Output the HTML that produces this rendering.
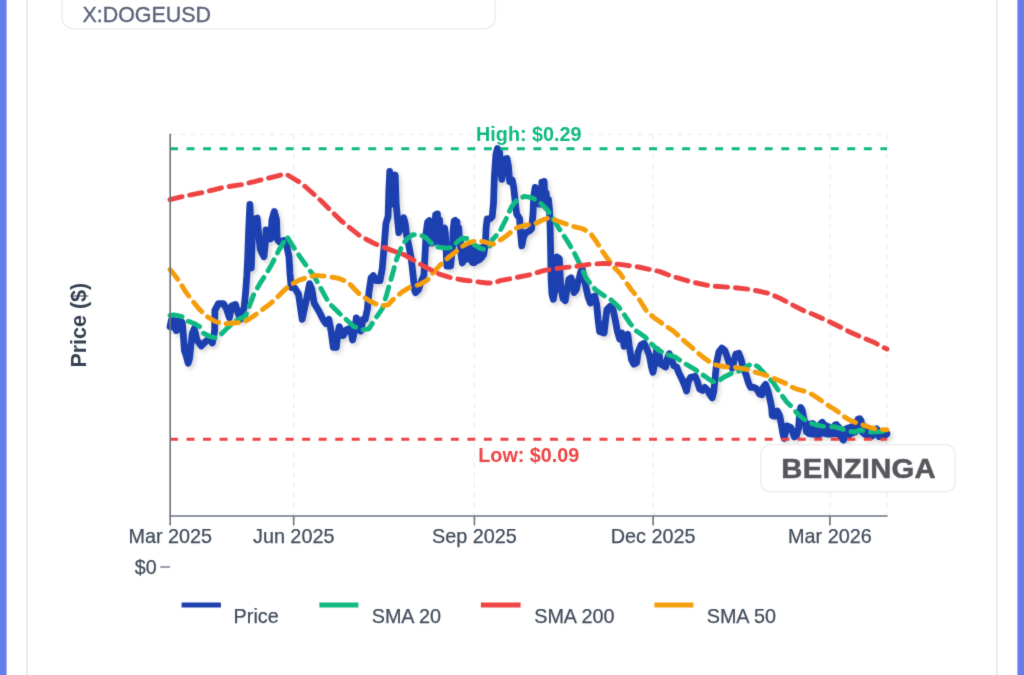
<!DOCTYPE html>
<html lang="en">
<head>
<meta charset="utf-8">
<title>X:DOGEUSD</title>
<style>
html,body{margin:0;padding:0;}
body{width:1024px;height:675px;overflow:hidden;background:#667eea;font-family:"Liberation Sans",Arial,sans-serif;position:relative;}
svg{position:absolute;left:0;top:0;will-change:transform;}
</style>
</head>
<body>
<svg width="1024" height="675" viewBox="0 0 1024 675" font-family="'Liberation Sans', Arial, sans-serif">
  <defs>
    <filter id="soft" filterUnits="userSpaceOnUse" x="-20" y="-20" width="1064" height="715" color-interpolation-filters="sRGB">
      <feConvolveMatrix order="3" kernelMatrix="0.01134 0.08382 0.01134 0.08382 0.61935 0.08382 0.01134 0.08382 0.01134" divisor="1" edgeMode="duplicate" preserveAlpha="false"/>
    </filter>
    <filter id="sh" x="-5%" y="-5%" width="110%" height="115%">
      <feDropShadow dx="2.2" dy="2.6" stdDeviation="2.2" flood-color="#000" flood-opacity="0.17"/>
    </filter>
  </defs>
  <g filter="url(#soft)">
  <!-- card + panel -->
  <rect x="6.6" y="-10" width="1010.82" height="700" fill="#ffffff"/>
  <g stroke="#e4e6ea" stroke-width="1.6">
    <line x1="27.15" y1="-5" x2="27.15" y2="680"/>
    <line x1="996.75" y1="-5" x2="996.75" y2="680"/>
  </g>
  <!-- ticker box -->
  <rect x="62.1" y="-30" width="433.3" height="58.7" rx="10.8" ry="10.8" fill="#ffffff" stroke="#eeeef1" stroke-width="1.5"/>
  <text transform="translate(82.4,21.6) scale(0.958,1)" font-size="22.4" fill="#5a6478" stroke="#5a6478" stroke-width="0.35">X:DOGEUSD</text>
  <!-- grid -->
  <g stroke="#eceef1" stroke-width="1.3" stroke-dasharray="5 4.95" fill="none">
    <line x1="170" y1="134.3" x2="887" y2="134.3"/>
    <line x1="293.7" y1="134.3" x2="293.7" y2="516"/>
    <line x1="474.4" y1="134.3" x2="474.4" y2="516"/>
    <line x1="653.1" y1="134.3" x2="653.1" y2="516"/>
    <line x1="829.9" y1="134.3" x2="829.9" y2="516"/>
    <line x1="887" y1="134.3" x2="887" y2="516"/>
  </g>
  <!-- price -->
  <polyline filter="url(#sh)" fill="none" stroke="#1e40af" stroke-width="6.8" stroke-linejoin="round" stroke-linecap="round" points="170,326.7 171.5,319.6 173.2,327.2 174.8,320.5 176.3,330.6 177.8,321.5 179.3,329.2 180.6,320.6 182.3,322.6 183.4,336 184.4,350.4 185.6,354 186.8,357.8 188.2,363.2 189.6,358 190.9,345 192.2,334 194.2,328.6 195.6,333.9 196.9,340 201.3,345.9 205.7,341.5 209.4,338.5 212.4,343 214.6,331.1 214.9,310.4 218.3,303.7 223.5,303.7 226.5,308.9 229.4,317.8 231.7,305.9 235.4,304.4 237.6,311.9 240.6,319.3 244.2,307 245.6,292 246.8,276 247.7,258 248.6,232 249.9,204.4 250.6,222 251,250 251.3,268 251.9,250 252.4,232 253.3,219.6 257.2,218.1 258.7,234.4 260.2,249.3 263.9,256.7 265.4,241.9 266.1,230 268.3,233 270.6,238.9 272,219.6 274.3,211.5 276.5,219.6 277.2,238.9 279.4,241.9 283.9,240.4 286.9,246.3 289,257 290,274 291.2,287.5 294.8,288.1 298.5,294.1 300.7,308.9 302.2,319.3 304.4,308.9 306.7,298.5 309.6,283.7 311.9,289.6 314.1,303 318.5,310.4 323,319.3 325.9,323.7 328.9,319.3 331.1,331.1 333.3,347.4 336.3,347.4 337.8,334.1 339.3,326.7 343,335.6 346.7,329.6 350.4,328.1 352.6,340 354.8,329.6 356.3,317.8 358.5,322.2 360.7,331.1 363,319.3 365.2,319.3 367.4,308.9 368.9,292.6 371.1,277.8 373.3,275.6 376.3,280.7 380,280.7 382.2,268.9 384.4,243 385.9,223.7 388.1,216.3 388.9,189.6 389.8,171.5 391.2,180 392.4,204 393.6,182 395.2,175 396.2,204.4 397.8,222.2 398.8,232.6 401.5,223.7 403.7,217.8 405.2,223.7 406.7,235.6 408.9,245.9 411.1,257.8 411.9,264.4 414.8,291.1 415.6,292.6 418.5,289.6 421.5,281 423.9,275 425,255.6 426.1,233.3 427.6,222 429.3,220.6 430.3,243 431.3,225 432.3,243 433.3,223.5 434.3,242 435.6,214.8 436.6,240 437.4,213.8 438.6,241 439.6,220 440.6,243 441.6,229.5 442.6,243 443.6,229 444.6,228.2 445.4,234 446.1,250 446.9,266 450.6,266 452.6,246 453.2,230 454.2,221 455.2,220.4 456,243 457,222 457.9,243 458.8,228 459.6,244 460.2,238 460.8,250 461.5,258 462.4,263 463.6,248 464.8,260 465.8,247 467,258.5 468,247 469,259 470,248 471.2,260 472.3,262.5 473.5,262.8 474.7,262.4 475.8,258 476.8,248 477.8,260.5 478.8,248 479.8,259.5 480.8,249 481.7,257.5 482.6,247.5 483.6,255 484.6,249 485.4,244.4 486.1,227.8 487.2,219 490,218.9 492.2,216.7 493.5,203 494.4,177 495.9,154.8 497.4,148.5 499.6,151.9 500.4,169.6 501.9,179.3 503.3,169.6 504.8,159.3 507,158.5 508.5,166.7 509.7,181.5 512.2,180 513.7,187.4 515.2,202.2 516.7,214.1 519.6,218.5 520.5,232 521.8,245.9 523.7,236.3 526.7,231.9 529.5,231 531.5,228.9 533,214.1 533.7,196.3 535.2,187.4 536.2,203 537.4,189.5 538.6,204 540,191 541,204 541.9,182.2 543,203 544.1,181.5 545.2,204.5 546.2,193 547.2,205.5 548.5,199.3 549.6,211 550.2,230 550.6,250 551.1,279.3 551.9,294.1 553.3,299.3 555.6,286.7 556.3,264.4 557,257 559.3,258.5 560,271.9 560.7,286.7 563,298.5 565.2,300.7 566.7,291.1 568.9,279.3 571.1,277.8 572.6,286.7 574.1,292.6 576.3,289.6 577.8,282.2 579.3,277.8 580.7,271.9 582.2,268.9 583.7,276.3 585.9,286.7 588.1,297 590.4,303 592.6,297 594.8,296 596.7,304.8 598.1,319.6 599.6,331.5 604.1,333 605.6,319.6 607,309.3 610,306.3 613,309.3 615.2,319.6 617.4,331.5 619.6,338.9 621.9,333 624.1,346.3 625.6,338.9 627.8,334.4 629.3,346.3 631.5,359.6 633.7,364.1 636.7,362.6 638.1,352.2 641.1,344.8 644.1,343.3 647,349.3 649.3,355.2 651.5,367 653,372.2 655.2,361.1 656.7,349.3 658.9,352.2 660.4,364.1 663.3,365.6 665.6,367 667,359.6 669.3,353.7 671.5,359.6 673.7,365.6 676.7,367 678.9,373 681.9,378.9 684.6,385.5 686.6,391 688.4,381 690.7,377.4 692.2,377 695.2,376.3 697.4,381.5 699.6,388.9 702.6,390.4 704.8,387.4 707.8,390.4 710,394.8 712.2,397.8 713.7,391.9 715.2,377 716.7,362.2 718.9,351.9 721.9,348.1 724.8,350.4 727,356.3 729.3,363.7 732.2,368.1 733.7,362.2 735.9,354.1 738.9,353.3 741.1,359.3 743.3,368.1 746.3,375.6 748.5,383 750.7,387.4 753.7,387.4 756.7,388.9 759.6,394.1 761.9,394.8 763.3,387.4 765.6,384.4 767.8,390.4 770,399.3 771.5,406.7 772.2,415.6 775.2,416.3 777.4,411.1 779.6,415.6 781.1,423 782.6,431.9 784.1,438.5 785.6,431.9 787,425.9 790.7,427.4 792.1,430.5 794.3,436.9 796.4,435.9 798.6,428.3 799.7,412.2 800.7,407.5 802.2,410 803.4,416 805,422.5 806.5,431.6 807.7,424.5 809,433.6 810.4,424 811.8,434.1 813.1,423.5 814.5,434.4 815.8,426 816.9,434.6 818.3,427 819.6,434.6 820.8,423.5 822.2,422.3 823.4,433.1 824.6,424.5 825.8,433.6 827,426 828.3,434.1 829.7,427 831,434.1 832.4,428 833.8,434 835.1,424.8 836.4,424.6 837.6,434.1 838.8,427 840,435.6 841.4,431.6 842.4,439.1 843.5,440 844.8,437.6 846,429 847.2,436.1 848.5,428 849.8,434.6 851.2,427 852.5,433.1 853.9,426 855.2,432.1 856.6,424 858,419.2 859.6,418.7 861,420.5 862.4,432.1 863.4,425.5 864.6,434.1 865.8,428 867,435.4 868.4,429 869.6,435.9 871,431.6 872.4,435.9 873.8,429.5 875.2,434.1 876.6,428.8 878,431.6 879.2,436.6 880.6,432.1 881.8,436.9 883.2,432.6 884.5,436.6 885.8,433.6 887,433.7"/>
  <!-- low / high lines -->
  <line x1="170" y1="439.2" x2="887" y2="439.2" stroke="#ef4444" stroke-width="3" stroke-dasharray="7.95 8.57"/>
  <line x1="170" y1="148.7" x2="887" y2="148.7" stroke="#10b981" stroke-width="3" stroke-dasharray="7.95 8.57"/>
  <g fill="none" stroke-width="4.9" stroke-linecap="round" stroke-linejoin="round" stroke-dasharray="12.4 7.8">
    <polyline stroke="#10b981" points="170,315.5 173.9,314.8 181.3,316.3 187.2,320.7 194.6,323.7 199.8,326.7 203.5,333.3 209.4,336.3 215.4,337.8 220.6,334.8 227.2,328.1 234.6,321.5 242,317.8 245.7,315.6 249.4,305.9 253.9,294.1 259.8,283.7 265.7,274.8 271.7,264.4 279,250 286.9,236.7 294.5,248.5 302.2,260 314.1,276.3 321.5,289.5 328.9,303 339.3,313.3 354.1,326.7 363,329.6 368.9,328.9 374.8,319.3 382.2,308.9 385.9,297 391.9,276.3 396.3,260 402.2,245.2 407.4,238.5 412.6,234.8 420,234.8 425.9,237.8 430.4,242.2 434.8,246.7 440.7,247.4 446.7,248.1 452.6,247.4 457,242.2 461.5,238.5 467.4,238.5 473.3,243.7 479.3,248.1 485.2,249.6 489.6,246.7 492.2,240 499.6,231.9 505.6,220 511.5,206.7 517.4,199.3 524.8,196.3 532.2,197.8 539.6,202.2 547,209.6 553,218.5 559.3,228.9 566.7,240 574.1,252.6 580.7,265.9 585.9,277.8 591.9,285.9 595.9,290 603.3,295.2 610.7,299.6 618.1,306.3 624.1,314.4 630,323.3 635.9,330.7 644.8,336.7 650.7,343.3 658.1,350 667,354.4 675.9,357.4 683.3,362.6 692.2,367.8 697.4,371.1 704.8,376.3 712.2,381.5 716.7,382.2 724.1,377 731.5,373.3 738.9,371.1 746.3,366.7 752.2,363.7 758.1,366.7 765.6,374.8 773,382.2 778.9,391.1 786.3,401.5 790,405.2 794.3,410.1 798.6,414.9 804,419.2 809.3,422.4 814.7,424.6 822.2,426.2 828.7,426.7 835.1,426.7 841.6,428.9 848,431 854.4,432.1 859.8,430 865.2,431.6 871.6,432.1 879.2,431.6 887,431.6"/>
    <polyline stroke="#f59e0b" points="170,269.6 173.9,274.1 179.8,282.2 185.7,291.9 191.7,300 199.1,308.9 206.5,316.3 215.4,321.5 224.3,324 233.1,323 243.5,322.2 252.4,317 261.3,310.4 270.2,303.7 277.6,297 283.5,291 288.9,285.9 298.7,280.4 307,277.5 315,275.4 327.4,276.3 339.3,278.5 348.1,282.2 358.5,293.3 370.4,301.5 380.7,305.9 388.1,304.8 393.3,299.3 402.2,291.9 409.6,287.4 420,284.4 427.4,280 433.3,272.6 440.7,264.4 448.1,257.8 455.6,251.9 463,245.9 470.4,242.1 477,240.9 484.4,241.7 489.6,243.5 493.3,244.2 498.5,241 503,238.3 507.5,235 512.5,230.8 517.6,227.3 526.3,225.2 535.2,223.7 544.1,219.3 550,217.8 558.9,221.5 571.1,225.9 583,228.9 590.4,233.3 596.3,241.5 602.2,251.1 608.1,259.3 614.1,267.4 620,273.3 625.5,281.5 631.5,290 638.9,298.9 646.3,310.7 653.7,317.4 664.1,324.8 673,330.7 681.9,338.9 690,345.9 697.4,352.6 704.8,358.5 713.7,364.4 724.1,366.7 735.9,367.4 747.8,369.6 756.7,372.6 767,375.6 775.9,379.3 786.3,383.7 791.6,387 798.6,389.7 805,391.3 811.5,394 817.9,398.3 823.3,402 828.7,405.8 834,409 839.4,412.8 844.8,417.1 850.1,420.3 856.6,423 863,425.1 869.5,427.3 875.9,428.9 882.4,429.6 887,429.9"/>
    <polyline stroke="#ef4444" points="170,199.7 184.5,196.1 204.1,192.2 223.6,187.3 243.1,184.4 262.7,179.5 282.2,174.6 286.1,174.1 301.7,183.4 321.3,201 340.8,220.5 360.3,236.2 374.8,243.7 389.6,249.6 404.4,254.8 415.6,261.5 427.4,268.1 439.3,274.1 451.1,277.8 463,280 474.8,281.5 486.7,283 494.1,283 500,280.7 514.8,277.8 529.6,274.8 544.4,270.4 559.3,268.1 574.1,266.7 588.9,264.4 603.7,263.4 620,264.4 638.5,267 660,271.6 672.3,276.4 691.4,281.9 710.6,286 731.1,287.3 750.2,289.4 769.4,293.5 781.2,298.8 791.7,304.6 803.4,310.5 815.2,315.2 826.9,320.5 838.6,326.3 850.3,332.2 862,337.5 873.8,342.2 883.1,347.4 887,349"/>
  </g>
  <!-- axes -->
  <g stroke="#6b7280" stroke-width="1.6" fill="none">
    <line x1="170.2" y1="133.8" x2="170.2" y2="525.5"/>
    <line x1="169.4" y1="516" x2="887.6" y2="516"/>
    <line x1="293.7" y1="516" x2="293.7" y2="525.5"/>
    <line x1="474.4" y1="516" x2="474.4" y2="525.5"/>
    <line x1="653.1" y1="516" x2="653.1" y2="525.5"/>
    <line x1="829.9" y1="516" x2="829.9" y2="525.5"/>
  </g>
  <line x1="160.3" y1="567" x2="170" y2="567" stroke="#7f8694" stroke-width="1.6"/>
  <!-- tick labels -->
  <g font-size="19.8" fill="#434d5c" stroke="#434d5c" stroke-width="0.25" text-anchor="middle">
    <text x="170.2" y="543">Mar 2025</text>
    <text x="293.7" y="543">Jun 2025</text>
    <text x="474.4" y="543">Sep 2025</text>
    <text x="653.1" y="543">Dec 2025</text>
    <text x="829.9" y="543">Mar 2026</text>
  </g>
  <text x="156.6" y="574.3" font-size="19.6" fill="#434d5c" stroke="#434d5c" stroke-width="0.25" text-anchor="end">$0</text>
  <!-- annotations -->
  <rect x="473.5" y="124" width="111" height="19" fill="#fff" fill-opacity="0.72"/>
  <text x="528.8" y="140.6" font-size="19.75" font-weight="bold" fill="#10b981" text-anchor="middle">High: $0.29</text>
  <text x="528.8" y="462" font-size="19.75" font-weight="bold" fill="#ef4444" text-anchor="middle">Low: $0.09</text>
  <!-- watermark -->
  <rect x="760.8" y="444.6" width="194.5" height="47.2" rx="9.5" ry="9.5" fill="#ffffff" fill-opacity="0.93" stroke="#ececee" stroke-width="1.4"/>
  <text transform="translate(858.6,478.4) scale(1.06,1)" font-size="27.6" font-weight="bold" fill="#56575c" stroke="#56575c" stroke-width="0.5" text-anchor="middle" letter-spacing="0.2">BENZINGA</text>
  <!-- y title -->
  <text transform="translate(86.3,325.2) rotate(-90)" font-size="21.5" font-weight="bold" fill="#374151" text-anchor="middle">Price ($)</text>
  <!-- legend -->
  <g stroke-width="5" fill="none">
    <line x1="181.6" y1="604.9" x2="220.9" y2="604.9" stroke="#1e40af"/>
    <line x1="319.4" y1="604.9" x2="358.4" y2="604.9" stroke="#10b981"/>
    <line x1="480.9" y1="604.9" x2="520.6" y2="604.9" stroke="#ef4444"/>
    <line x1="654.4" y1="604.9" x2="693.4" y2="604.9" stroke="#f59e0b"/>
  </g>
  <g font-size="19.8" fill="#434d5c" stroke="#434d5c" stroke-width="0.25">
    <text x="233.6" y="622.8">Price</text>
    <text x="371.7" y="622.8">SMA 20</text>
    <text x="534.2" y="622.8">SMA 200</text>
    <text x="706.7" y="622.8">SMA 50</text>
  </g>
  </g>
</svg>
</body>
</html>
